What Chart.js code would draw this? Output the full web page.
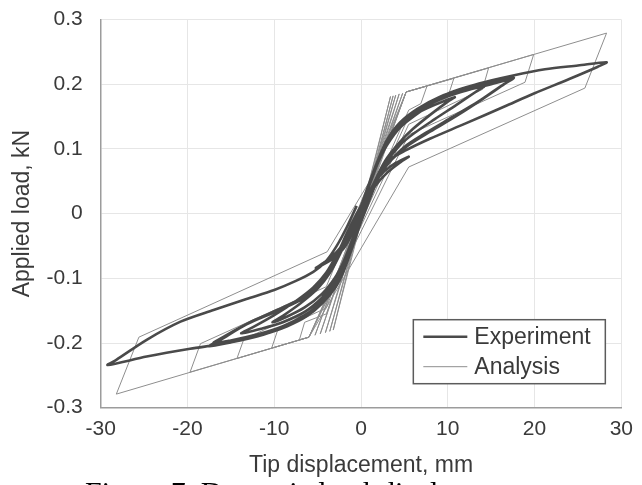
<!DOCTYPE html>
<html>
<head>
<meta charset="utf-8">
<title>Load-displacement hysteresis</title>
<script src="https://cdn.jsdelivr.net/npm/chart.js@4.4.0/dist/chart.umd.min.js"></script>
<style>
  html, body { margin: 0; padding: 0; background: #ffffff; }
  #wrap { width: 642px; height: 485px; position: relative; }
</style>
</head>
<body>
<div id="wrap"><canvas id="c" width="642" height="485"></canvas></div>
<script>
// ---- Experiment: measured tip displacement (mm) and applied load (kN) ----
const expDisp = [
  0, 1, 2, 3.5, 5.5,
  4.5, 3, 1.5, 0, -1, -2, -3.5, -5.2,
  -4.2, -2.8, -1.5, -0.6,
  0.3, 1, 2, 3, 4.5, 6.5, 8.5, 10.8,
  10, 8, 6, 4.5, 3, 2, 1, 0, -1, -2, -3, -4.5, -6.5, -8.5, -10.2,
  -9, -7, -5, -3.6, -2.4, -1.3, 0,
  1, 2, 3, 4.5, 6.5, 9, 11.5, 14.2,
  13.2, 11, 8.5, 6, 4.5, 3, 2, 1, 0, -1, -2, -3, -4.5, -6.5, -9, -11.5, -13.8,
  -12.5, -10, -7.5, -5.5, -4, -2.7, -1.5, 0,
  1, 2, 3, 4.5, 6.5, 9, 12, 15, 17.6,
  16.5, 14, 11, 8, 5.5, 3.5, 2.2, 1, 0, -1, -2, -3, -4.5, -6.5, -9, -12, -15, -17.5,
  -16.3, -13.2, -9.4, -6.5, -4.5, -3, -1.8, -0.5, 0,
  1, 2, 3, 4.5, 6.5, 9, 12, 15, 17.2,
  16, 13.5, 10.5, 7.5, 5, 3.3, 2, 1, 0, -1, -2, -3, -4.5, -6.5, -9, -12, -15, -17,
  -15.8, -12.5, -9, -6, -4.2, -2.8, -1.6, 0,
  1, 2, 3, 4.5, 7.1, 10.1, 13.6, 17.4, 21.2, 25, 28.3,
  27.3, 24, 20, 16.6, 12, 8, 5.2, 3.2, 2, 1, 0, -1, -2, -2.9, -4.5, -6.3, -8.5, -11.3, -14, -16.2, -19.7, -24.7, -29.2,
  -28.2, -24.7, -20.8, -17, -13.2, -10, -7.5, -5.5, -4, -2.8, -1.6, -0.5
];
const expLoad = [
  0, 0.035, 0.056, 0.074, 0.088,
  0.079, 0.063, 0.040, 0.004, -0.030, -0.054, -0.072, -0.084,
  -0.075, -0.059, -0.036, -0.014,
  0.018, 0.045, 0.082, 0.108, 0.134, 0.155, 0.168, 0.180,
  0.173, 0.153, 0.131, 0.111, 0.086, 0.062, 0.032, -0.005, -0.040, -0.074, -0.099, -0.124, -0.145, -0.159, -0.168,
  -0.158, -0.139, -0.116, -0.092, -0.062, -0.027, 0.012,
  0.049, 0.084, 0.112, 0.139, 0.160, 0.177, 0.188, 0.197,
  0.188, 0.168, 0.146, 0.123, 0.106, 0.081, 0.058, 0.027, -0.008, -0.045, -0.080, -0.105, -0.130, -0.152, -0.168, -0.178, -0.185,
  -0.176, -0.157, -0.135, -0.114, -0.091, -0.061, -0.028, 0.010,
  0.047, 0.084, 0.114, 0.141, 0.162, 0.180, 0.194, 0.203, 0.210,
  0.200, 0.177, 0.151, 0.127, 0.106, 0.083, 0.060, 0.025, -0.010, -0.048, -0.083, -0.108, -0.135, -0.158, -0.176, -0.190, -0.199, -0.205,
  -0.196, -0.171, -0.149, -0.130, -0.105, -0.072, -0.035, 0.000, 0.012,
  0.045, 0.080, 0.110, 0.137, 0.158, 0.176, 0.190, 0.200, 0.207,
  0.196, 0.173, 0.149, 0.125, 0.103, 0.080, 0.055, 0.022, -0.013, -0.050, -0.086, -0.111, -0.137, -0.157, -0.174, -0.187, -0.196, -0.200,
  -0.190, -0.166, -0.145, -0.124, -0.100, -0.068, -0.030, 0.012,
  0.046, 0.080, 0.106, 0.133, 0.160, 0.186, 0.201, 0.213, 0.223, 0.229, 0.234,
  0.227, 0.208, 0.186, 0.166, 0.139, 0.116, 0.098, 0.082, 0.060, 0.028, -0.012, -0.052, -0.089, -0.113, -0.139, -0.159, -0.174, -0.187, -0.196, -0.202, -0.209, -0.221, -0.234,
  -0.226, -0.195, -0.167, -0.149, -0.132, -0.118, -0.104, -0.090, -0.073, -0.050, -0.020, 0.012
];

// ---- Analysis: bilinear model response, same units ----
const anaDisp = [
  0, 3.4, -3.2, 3.7, -3.6, 4.0, -4.1, 4.4, -4.7, 4.8, -5.3, 5.2,
  7.6, 6.9, 5.5, -6.0, -7.1, -6.5, -4.0, 5.2,
  10.7, 10.0, 5.5, -6.0, -10.3, -9.6, -4.0, 5.2,
  14.7, 14.0, 5.5, -6.0, -14.3, -13.5, -4.0, 5.2,
  19.9, 18.9, 5.5, -6.0, -19.7, -18.5, -4.0, 5.2,
  28.3, 25.8, 5.5, -6.0, -28.2, -25.6, -3.9, 1.0
];
const anaLoad = [
  0, 0.181, -0.180, 0.182, -0.182, 0.183, -0.184, 0.185, -0.186, 0.186, -0.188, 0.188,
  0.197, 0.170, 0.160, -0.191, -0.195, -0.168, -0.155, 0.188,
  0.209, 0.180, 0.150, -0.191, -0.208, -0.180, -0.146, 0.188,
  0.225, 0.192, 0.138, -0.191, -0.224, -0.194, -0.136, 0.188,
  0.246, 0.203, 0.122, -0.191, -0.245, -0.201, -0.113, 0.188,
  0.279, 0.194, 0.072, -0.191, -0.279, -0.191, -0.059, 0.050
];

// ---- Axis ticks ----
const xTickValues = [-30, -20, -10, 0, 10, 20, 30];
const xTickLabels = ['-30', '-20', '-10', '0', '10', '20', '30'];
const yTickValues = [-0.3, -0.2, -0.1, 0, 0.1, 0.2, 0.3];
const yTickLabels = ['-0.3', '-0.2', '-0.1', '0', '0.1', '0.2', '0.3'];

const seriesNames = ['Experiment', 'Analysis'];
const captionText = 'Figure 7. Dynamic load-displacement';

const toPoints = (xs, ys) => xs.map((x, i) => ({ x: x, y: ys[i] }));

const SANS = '"Liberation Sans", Arial, Helvetica, sans-serif';
const TEXT = '#3a3a3a';

// Legend box inside the plot plus the figure caption under the axis
const overlay = {
  id: 'overlay',
  afterDraw(chart) {
    const ctx = chart.ctx;
    const area = chart.chartArea;
    ctx.save();
    const bx = area.right - 208, by = area.bottom - 88, bw = 192, bh = 64;
    ctx.fillStyle = '#ffffff';
    ctx.fillRect(bx, by, bw, bh);
    ctx.strokeStyle = '#5c5c5c';
    ctx.lineWidth = 1.5;
    ctx.strokeRect(bx, by, bw, bh);
    chart.data.datasets.forEach((ds, i) => {
      const ly = by + 17 + i * 30;
      ctx.strokeStyle = ds.borderColor;
      ctx.lineWidth = ds.borderWidth;
      ctx.beginPath();
      ctx.moveTo(bx + 10, ly);
      ctx.lineTo(bx + 54, ly);
      ctx.stroke();
      ctx.fillStyle = TEXT;
      ctx.font = '23px ' + SANS;
      ctx.textBaseline = 'middle';
      ctx.textAlign = 'left';
      ctx.fillText(ds.label, bx + 61, ly + 1);
    });
    ctx.fillStyle = '#000000';
    ctx.font = '30px "Liberation Serif", "Times New Roman", serif';
    ctx.textBaseline = 'alphabetic';
    ctx.textAlign = 'left';
    ctx.fillText(captionText, 85, 502);
    ctx.restore();
  }
};

new Chart(document.getElementById('c').getContext('2d'), {
  type: 'scatter',
  data: {
    datasets: [
      {
        label: seriesNames[0],
        data: toPoints(expDisp, expLoad),
        showLine: true,
        borderColor: '#4a4a4a',
        borderWidth: 2.6,
        pointRadius: 0,
        tension: 0.3,
        fill: false
      },
      {
        label: seriesNames[1],
        data: toPoints(anaDisp, anaLoad),
        showLine: true,
        borderColor: '#8e8e8e',
        borderWidth: 1,
        pointRadius: 0,
        tension: 0,
        fill: false
      }
    ]
  },
  options: {
    responsive: false,
    animation: false,
    devicePixelRatio: 1,
    layout: { padding: { top: 19.5, right: 19, left: 0, bottom: 0 } },
    plugins: { legend: { display: false }, tooltip: { enabled: false } },
    scales: {
      x: {
        type: 'linear',
        min: -30, max: 30,
        afterBuildTicks: s => { s.ticks = xTickValues.map(v => ({ value: v })); },
        afterFit: s => { s.height = 77.3; },
        ticks: {
          callback: (v, i) => xTickLabels[i],
          color: TEXT, font: { family: SANS, size: 21 },
          padding: 9, maxRotation: 0, autoSkip: false
        },
        grid: { color: '#e6e6e6', lineWidth: 1, drawTicks: false },
        border: { display: true, color: '#9c9c9c', width: 1.5 },
        title: {
          display: true, text: 'Tip displacement, mm', color: TEXT,
          font: { family: SANS, size: 23 }, padding: { top: 0, bottom: 6 }
        }
      },
      y: {
        type: 'linear',
        min: -0.3, max: 0.3,
        afterBuildTicks: s => { s.ticks = yTickValues.map(v => ({ value: v })); },
        afterFit: s => { s.width = 100.7; s.paddingTop = 12; s.paddingBottom = 12; },
        ticks: {
          callback: (v, i) => yTickLabels[i],
          color: TEXT, font: { family: SANS, size: 21 },
          padding: 18, autoSkip: false
        },
        grid: { color: '#e6e6e6', lineWidth: 1, drawTicks: false },
        border: { display: true, color: '#9c9c9c', width: 1.5 },
        title: {
          display: true, text: 'Applied load, kN', color: TEXT,
          font: { family: SANS, size: 23 }, padding: { top: 9, bottom: 0 }
        }
      }
    }
  },
  plugins: [overlay]
});
</script>
</body>
</html>
